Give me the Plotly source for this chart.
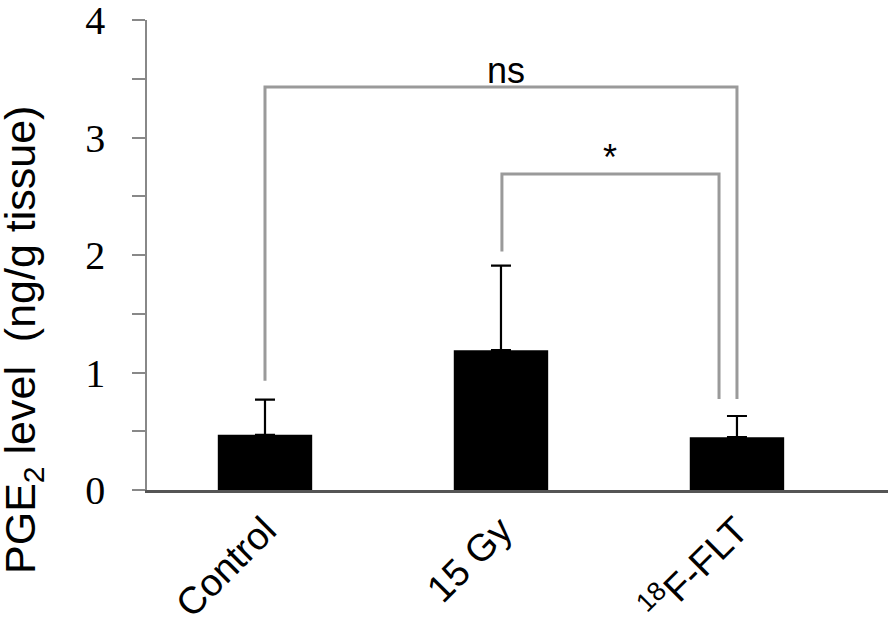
import plotly.graph_objects as go

categories = ["Control", "15 Gy", "<sup>18</sup>F-FLT"]
means = [0.47, 1.19, 0.45]
errors_up = [0.30, 0.72, 0.18]
y_tick_vals = [0, 1, 2, 3, 4]
y_tick_text = ["0", "1", "2", "3", "4"]

sig_labels = ["ns", "*"]

W, H = 894, 632
L, R, T, B = 147, 6, 20, 142
pw = W - L - R
ph = H - T - B

xpos = list(range(len(categories)))

fig = go.Figure()
fig.add_trace(go.Bar(
    x=xpos, y=means, width=0.40,
    marker=dict(color="black", line=dict(width=0)),
    error_y=dict(type="data", array=errors_up, arrayminus=[0]*3, symmetric=False,
                 color="black", thickness=2.2, width=10),
    showlegend=False,
))

gray = "#9a9a9a"
def bracket(x0, x1, top, yb0, yb1):
    fig.add_shape(type="path",
                  path=f"M {x0} {yb0} L {x0} {top} L {x1} {top} L {x1} {yb1}",
                  line=dict(color=gray, width=3), xref="x", yref="y")

# ns bracket: Control to 18F-FLT
bracket(xpos[0], xpos[2], 3.43, 0.93, 0.775)
# * bracket: 15 Gy to 18F-FLT
bracket(xpos[1] + 0.004, xpos[2] - 0.076, 2.69, 2.03, 0.775)

fig.add_annotation(x=1.02, y=3.57, text=sig_labels[0], showarrow=False,
                   font=dict(family="Liberation Sans, Arial", size=36, color="black"),
                   xref="x", yref="y")
fig.add_annotation(x=1.46, y=2.83, text=sig_labels[1], showarrow=False,
                   font=dict(family="Liberation Sans, Arial", size=36, color="black"),
                   xref="x", yref="y")

fig.add_annotation(x=(23 - L) / pw, y=(490 - 340) / ph, xref="paper", yref="paper",
                   xanchor="center", yanchor="middle",
                   text="PGE<sub>2</sub> level  (ng/g tissue)", textangle=-90,
                   showarrow=False,
                   font=dict(family="Liberation Sans, Arial", size=43, color="black"))

fig.update_layout(
    width=W, height=H,
    margin=dict(l=L, r=R, t=T, b=B, autoexpand=False),
    plot_bgcolor="white", paper_bgcolor="white",
    xaxis=dict(range=[-0.5, 2.64], tickvals=xpos, ticktext=categories,
               tickangle=-45, ticks="", showgrid=False, zeroline=False,
               showline=True, linecolor="#555555", linewidth=2.5,
               ticklabelstandoff=0,
               tickfont=dict(family="Liberation Sans, Arial", size=38, color="black")),
    yaxis=dict(range=[0, 4.0001], tickvals=y_tick_vals, ticktext=y_tick_text,
               ticks="outside", ticklen=13, tickcolor="#888888", tickwidth=1.5,
               showgrid=False, zeroline=False, ticklabeloverflow="allow",
               showline=True, linecolor="#888888", linewidth=1.5,
               ticklabelstandoff=19,
               minor=dict(dtick=0.5, ticks="outside", ticklen=13, tickcolor="#888888",
                          tickwidth=1.5, showgrid=False),
               tickfont=dict(family="Liberation Serif, Times New Roman", size=40, color="black")),
)

fig.write_html("out.html", config={"displayModeBar": False},
               post_script="document.body.style.margin='0';document.body.style.overflow='hidden';")
